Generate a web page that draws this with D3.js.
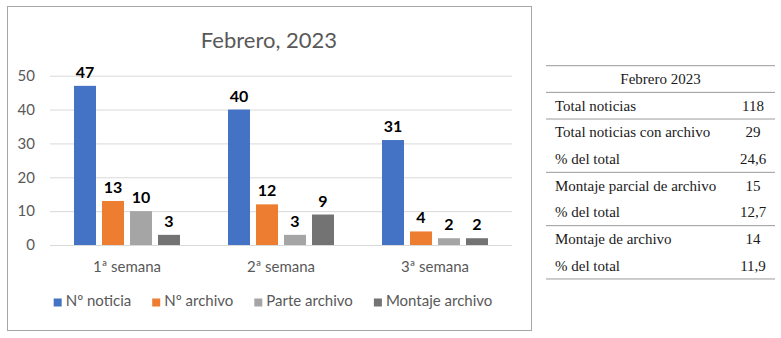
<!DOCTYPE html>
<html>
<head>
<meta charset="utf-8">
<script src="https://cdn.jsdelivr.net/npm/d3@7"></script>
<style>
  body { margin: 0; background: #fff; }
</style>
</head>
<body>
<div id="chart"></div>
<script>
/* chart values */
const weeks = ["1ª semana", "2ª semana", "3ª semana"];
const series = ["Nº noticia", "Nº archivo", "Parte archivo", "Montaje archivo"];
const noticia = [47, 40, 31];
const archivo = [13, 12, 4];
const parte = [10, 3, 2];
const montaje = [3, 9, 2];
const yTicks = [0, 10, 20, 30, 40, 50];

/* table on the right */
const tableTitle = "Febrero 2023";
const tableLabels = ["Total noticias", "Total noticias con archivo", "% del total",
    "Montaje parcial de archivo", "% del total", "Montaje de archivo", "% del total"];
const tableValues = ["118", "29", "24,6", "15", "12,7", "14", "11,9"];
const ruleAfter = [0, 2, 4, 6];   // rows followed by a rule

const colors = ["#4472C4", "#ED7D31", "#A5A5A5", "#737373"];

const width = 781, height = 338,
    margin = ({top: 75.7, right: 269, bottom: 93, left: 50});

const data = weeks.map((w, i) => ({
    week: w,
    values: [noticia[i], archivo[i], parte[i], montaje[i]]
}));

let svg = d3.select("#chart")
    .append("svg")
    .attr("width", width)
    .attr("height", height)
    .attr("viewBox", [0, 0, width, height])
    .style("font-family", "Lato, 'Open Sans', sans-serif");

/* chart frame */
svg.append("rect")
    .attr("x", 7.5).attr("y", 6.5)
    .attr("width", 524).attr("height", 324)
    .attr("fill", "#fff")
    .attr("stroke", "#a6a6a6");

const x0 = d3.scaleBand()
    .domain(weeks)
    .range([margin.left, width - margin.right]);

const x1 = d3.scaleBand()
    .domain(series)
    .range([0, x0.bandwidth()])
    .paddingInner(0.214)
    .paddingOuter(0.857);

const y = d3.scaleLinear()
    .domain([0, 50])
    .range([height - margin.bottom, margin.top]);

/* gridlines + y labels */
const yAxis = g => g
    .attr("transform", `translate(${margin.left},0)`)
    .call(d3.axisLeft(y).tickValues(yTicks)
        .tickSize(-(width - margin.right - margin.left))
        .tickPadding(15))
    .call(g => g.select(".domain").remove())
    .call(g => g.selectAll(".tick line").attr("stroke", "#d9d9d9"))
    .call(g => g.selectAll(".tick text")
        .attr("fill", "#595959")
        .style("font-size", "15px")
        .style("font-family", "Lato, 'Open Sans', sans-serif"));

svg.append("g").call(yAxis);

/* title */
svg.append("text")
    .attr("x", 269)
    .attr("y", 48)
    .attr("text-anchor", "middle")
    .attr("fill", "#595959")
    .style("font-size", "22px")
    .text("Febrero, 2023");

/* bars */
let group = svg.selectAll(".grp")
    .data(data)
    .join("g")
    .attr("class", "grp")
    .attr("transform", d => `translate(${x0(d.week)},0)`);

let bar = group.selectAll(".bar")
    .data(d => d.values.map((v, i) => ({key: series[i], value: v, i: i})))
    .join("g")
    .attr("class", "bar");

bar.append("rect")
    .attr("fill", d => colors[d.i])
    .attr("x", d => x1(d.key))
    .attr("width", x1.bandwidth())
    .attr("y", d => y(d.value))
    .attr("height", d => y(0) - y(d.value));

bar.append("text")
    .text(d => d.value)
    .attr("x", d => x1(d.key) + x1.bandwidth() / 2)
    .attr("y", d => y(d.value) - 8)
    .attr("text-anchor", "middle")
    .style("font-size", "16px")
    .style("font-weight", "bold")
    .style("fill", "#000");

/* category labels */
svg.append("g")
    .selectAll("text")
    .data(weeks)
    .join("text")
    .attr("x", d => x0(d) + x0.bandwidth() / 2)
    .attr("y", 272)
    .attr("text-anchor", "middle")
    .attr("fill", "#595959")
    .style("font-size", "15px")
    .text(d => d);

/* legend, laid out from text widths and centred */
let legend = svg.append("g");
let items = legend.selectAll("g")
    .data(series)
    .join("g");
items.append("rect")
    .attr("width", 8).attr("height", 8)
    .attr("y", 298.5)
    .attr("fill", (d, i) => colors[i]);
items.append("text")
    .attr("x", 12)
    .attr("y", 306)
    .attr("fill", "#595959")
    .style("font-size", "15px")
    .text(d => d);
let cursor = 0;
items.each(function() {
    const w = 12 + d3.select(this).select("text").node().getComputedTextLength();
    d3.select(this).attr("transform", `translate(${cursor},0)`);
    cursor += w + 21;
});
const legendW = cursor - 21;
legend.attr("transform", `translate(${273 - legendW / 2},0)`);

/* table */
const tLeft = 546, tRight = 775, tTop = 65.7, rowH = 26.66, valX = 753;
let table = svg.append("g")
    .style("font-family", "'Liberation Serif', 'DejaVu Serif', serif")
    .style("font-size", "15px")
    .attr("fill", "#1a1a1a");

const rules = [0, 1].concat(ruleAfter.map(r => r + 2));
table.selectAll("line")
    .data(rules)
    .join("line")
    .attr("x1", tLeft).attr("x2", tRight)
    .attr("y1", d => tTop + d * rowH)
    .attr("y2", d => tTop + d * rowH)
    .attr("stroke", "#9a9a9a")
    .attr("stroke-width", 1);

table.append("text")
    .attr("x", (tLeft + tRight) / 2)
    .attr("y", tTop + rowH / 2 + 5)
    .attr("text-anchor", "middle")
    .text(tableTitle);

table.selectAll(".lab")
    .data(tableLabels)
    .join("text")
    .attr("class", "lab")
    .attr("x", 555)
    .attr("y", (d, i) => tTop + (i + 1) * rowH + rowH / 2 + 5)
    .text(d => d);

table.selectAll(".val")
    .data(tableValues)
    .join("text")
    .attr("class", "val")
    .attr("x", valX)
    .attr("y", (d, i) => tTop + (i + 1) * rowH + rowH / 2 + 5)
    .attr("text-anchor", "middle")
    .text(d => d);
</script>
</body>
</html>
